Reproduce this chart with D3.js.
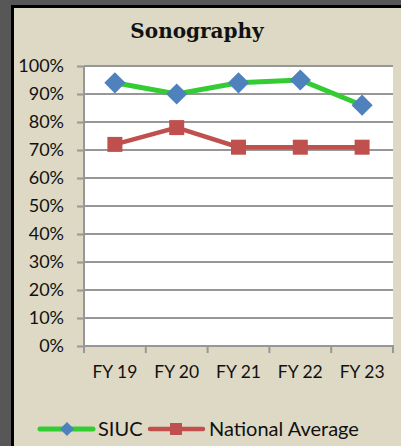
<!DOCTYPE html>
<html>
<head>
<meta charset="utf-8">
<script src="https://cdn.jsdelivr.net/npm/d3@7"></script>
<style>
  html, body { margin: 0; padding: 0; background: #575757; }
  svg { display: block; }
</style>
</head>
<body>
<svg id="chart" width="401" height="446"></svg>
<script>
// Pass rates by fiscal year
const categories = ["FY 19", "FY 20", "FY 21", "FY 22", "FY 23"];
const siucValues = [94, 90, 94, 95, 86];
const nationalValues = [72, 78, 71, 71, 71];
const yTicks = [0, 10, 20, 30, 40, 50, 60, 70, 80, 90, 100];
const seriesNames = ["SIUC", "National Average"];

const svg = d3.select("#chart");
const W = 401, H = 446;
const labelFont = "Lato, 'Open Sans', sans-serif";

// Panel background and frame
svg.append("rect").attr("x", 0).attr("y", 0).attr("width", W).attr("height", H).attr("fill", "#575757");
svg.append("rect").attr("x", 11).attr("y", 5).attr("width", W - 11).attr("height", H - 5).attr("fill", "#000");
svg.append("rect").attr("x", 14).attr("y", 8).attr("width", W - 14).attr("height", H - 8).attr("fill", "#DDD9C4");

const plot = { left: 84, right: 393, top: 66, bottom: 346 };

const x = d3.scaleBand().domain(categories).range([plot.left, plot.right]);
const y = d3.scaleLinear().domain([0, 100]).range([plot.bottom, plot.top]);

// Plot area
svg.append("rect")
  .attr("x", plot.left).attr("y", plot.top)
  .attr("width", plot.right - plot.left).attr("height", plot.bottom - plot.top)
  .attr("fill", "#fff");

// Horizontal gridlines
svg.append("g").selectAll("line").data(yTicks.filter(d => d > 0)).join("line")
  .attr("x1", plot.left).attr("x2", plot.right)
  .attr("y1", d => y(d)).attr("y2", d => y(d))
  .attr("stroke", "#979797").attr("stroke-width", 2);

// Y axis
const yAxis = svg.append("g").attr("transform", `translate(${plot.left},0)`)
  .call(d3.axisLeft(y).tickValues(yTicks).tickFormat(d => d + "%").tickSize(7).tickPadding(13));
yAxis.select(".domain").attr("stroke", "#979797").attr("stroke-width", 2).attr("d", `M0,${plot.top}V${plot.bottom}`);
yAxis.selectAll(".tick line").attr("stroke", "#979797").attr("stroke-width", 2);
yAxis.selectAll(".tick text")
  .attr("font-family", labelFont).attr("font-size", 18).attr("fill", "#111");

// X axis
const xAxis = svg.append("g").attr("transform", `translate(0,${plot.bottom})`)
  .call(d3.axisBottom(x).tickSize(0).tickPadding(20));
xAxis.select(".domain").attr("stroke", "#979797").attr("stroke-width", 2).attr("d", `M${plot.left - 1},0H${plot.right + 1}`);
xAxis.selectAll(".tick text")
  .attr("font-family", labelFont).attr("font-size", 17.5).attr("fill", "#111");
// Category boundary ticks
const bounds = categories.map(c => x(c)).concat([x(categories[categories.length - 1]) + x.bandwidth()]);
svg.append("g").selectAll("line").data(bounds).join("line")
  .attr("x1", d => d).attr("x2", d => d)
  .attr("y1", plot.bottom).attr("y2", plot.bottom + 7)
  .attr("stroke", "#979797").attr("stroke-width", 2);

const cx = c => x(c) + x.bandwidth() / 2;

// Series lines
const line = d3.line().x(d => cx(d.c)).y(d => y(d.v));
const siuc = categories.map((c, i) => ({ c, v: siucValues[i] }));
const nat = categories.map((c, i) => ({ c, v: nationalValues[i] }));

svg.append("path").datum(nat).attr("d", line)
  .attr("fill", "none").attr("stroke", "#C0504D").attr("stroke-width", 4.5);
svg.append("path").datum(siuc).attr("d", line)
  .attr("fill", "none").attr("stroke", "#33CC33").attr("stroke-width", 5);

// Markers
svg.append("g").selectAll("rect").data(nat).join("rect")
  .attr("x", d => cx(d.c) - 7.5).attr("y", d => y(d.v) - 7.5)
  .attr("width", 15).attr("height", 15).attr("fill", "#C0504D");
const diamond = d3.symbol().type(d3.symbolSquare).size(15 * 15);
svg.append("g").selectAll("path").data(siuc).join("path")
  .attr("d", diamond)
  .attr("transform", d => `translate(${cx(d.c)},${y(d.v)}) rotate(45)`)
  .attr("fill", "#4F81BD");

// Title
svg.append("text").attr("x", 197).attr("y", 38).attr("text-anchor", "middle")
  .attr("font-family", "'DejaVu Serif', 'Liberation Serif', serif").attr("font-weight", "bold")
  .attr("font-size", 20).attr("fill", "#111").text("Sonography");

// Legend
const legend = svg.append("g").attr("font-family", labelFont).attr("font-size", 20);
legend.append("line").attr("x1", 40).attr("x2", 93).attr("y1", 429).attr("y2", 429)
  .attr("stroke", "#33CC33").attr("stroke-width", 5).attr("stroke-linecap", "round");
legend.append("path").attr("d", d3.symbol().type(d3.symbolSquare).size(100))
  .attr("transform", "translate(67,429) rotate(45)").attr("fill", "#4F81BD");
legend.append("text").attr("x", 98).attr("y", 436).attr("fill", "#111").text(seriesNames[0]);
legend.append("line").attr("x1", 150).attr("x2", 203).attr("y1", 429).attr("y2", 429)
  .attr("stroke", "#C0504D").attr("stroke-width", 4.5).attr("stroke-linecap", "round");
legend.append("rect").attr("x", 170).attr("y", 423).attr("width", 12).attr("height", 12).attr("fill", "#C0504D");
legend.append("text").attr("x", 209).attr("y", 436).attr("fill", "#111").text(seriesNames[1]);
</script>
</body>
</html>
